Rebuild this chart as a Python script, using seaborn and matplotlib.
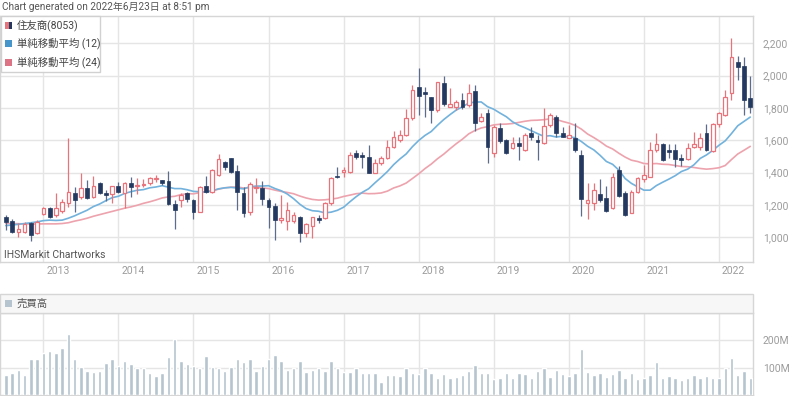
import numpy as np
import pandas as pd
import seaborn as sns
import matplotlib
matplotlib.use("Agg")
import matplotlib.pyplot as plt
from matplotlib.patches import Rectangle
from matplotlib.transforms import ScaledTranslation

# monthly candles, Jul 2012 .. Jun 2022
opens = [1124, 1103, 1031, 1031, 1087, 1025, 1144, 1179, 1138, 1165, 1210, 1276,
         1252, 1303, 1252, 1334, 1276, 1266, 1317, 1276, 1338, 1320, 1326, 1334,
         1361, 1355, 1348, 1206, 1231, 1272, 1231, 1159, 1320, 1282, 1386, 1468,
         1489, 1410, 1276, 1155, 1303, 1303, 1231, 1194, 1107, 1103, 1103, 1128,
         1025, 1070, 1117, 1122, 1210, 1379, 1406, 1406, 1520, 1509, 1499, 1400,
         1458, 1493, 1557, 1602, 1633, 1736, 1932, 1897, 1866, 1787, 1956, 1808,
         1808, 1849, 1818, 1903, 1722, 1767, 1520, 1674, 1602, 1551, 1586, 1540,
         1647, 1602, 1581, 1695, 1746, 1647, 1616, 1612, 1509, 1210, 1210, 1268,
         1241, 1179, 1416, 1272, 1153, 1282, 1359, 1375, 1540, 1577, 1540, 1540,
         1493, 1482, 1561, 1561, 1643, 1536, 1701, 1757, 1895, 2083, 2060, 1860]
highs = [1138, 1111, 1091, 1097, 1097, 1107, 1190, 1190, 1276, 1235, 1612, 1313,
         1396, 1355, 1381, 1344, 1293, 1320, 1344, 1344, 1375, 1365, 1359, 1375,
         1386, 1355, 1412, 1231, 1276, 1282, 1235, 1317, 1379, 1421, 1513, 1474,
         1493, 1447, 1313, 1344, 1365, 1348, 1241, 1210, 1262, 1221, 1159, 1132,
         1087, 1128, 1138, 1221, 1375, 1437, 1437, 1530, 1542, 1530, 1571, 1482,
         1503, 1602, 1659, 1664, 1792, 1942, 2045, 1932, 1870, 1962, 1998, 1922,
         1849, 1894, 1948, 1942, 1767, 1792, 1695, 1705, 1606, 1623, 1623, 1643,
         1685, 1633, 1798, 1767, 1757, 1685, 1695, 1705, 1540, 1334, 1334, 1359,
         1317, 1400, 1441, 1289, 1293, 1375, 1447, 1592, 1647, 1581, 1577, 1577,
         1515, 1581, 1654, 1647, 1701, 1709, 1773, 1911, 2231, 2122, 2113, 1998]
lows = [1045, 1029, 1000, 1025, 979, 1021, 1138, 1117, 1128, 1148, 1190, 1159,
        1235, 1235, 1241, 1268, 1225, 1210, 1272, 1179, 1252, 1266, 1313, 1322,
        1344, 1324, 1200, 1049, 1190, 1221, 1113, 1159, 1276, 1276, 1379, 1417,
        1400, 1169, 1128, 1138, 1272, 1200, 1056, 984, 1087, 1045, 1087, 973,
        1004, 994, 1091, 1113, 1200, 1365, 1375, 1396, 1482, 1427, 1396, 1400,
        1447, 1482, 1550, 1591, 1627, 1726, 1757, 1746, 1705, 1777, 1812, 1808,
        1787, 1792, 1808, 1660, 1716, 1458, 1499, 1581, 1515, 1546, 1478, 1536,
        1602, 1478, 1577, 1685, 1619, 1619, 1612, 1530, 1132, 1111, 1169, 1221,
        1159, 1173, 1252, 1132, 1148, 1276, 1344, 1371, 1530, 1474, 1489, 1433,
        1441, 1478, 1555, 1540, 1536, 1530, 1685, 1750, 1850, 1973, 1757, 1767]
closes = [1097, 1035, 1049, 1082, 1014, 1097, 1179, 1128, 1179, 1221, 1282, 1231,
          1307, 1241, 1320, 1272, 1262, 1320, 1282, 1338, 1309, 1326, 1330, 1365,
          1369, 1338, 1206, 1169, 1262, 1235, 1159, 1313, 1282, 1417, 1482, 1437,
          1406, 1282, 1148, 1328, 1313, 1235, 1186, 1107, 1117, 1169, 1138, 1025,
          1082, 1124, 1107, 1210, 1365, 1371, 1417, 1509, 1495, 1499, 1400, 1458,
          1493, 1557, 1619, 1633, 1736, 1911, 1874, 1885, 1787, 1962, 1823, 1823,
          1835, 1804, 1891, 1709, 1742, 1561, 1684, 1598, 1520, 1586, 1565, 1633,
          1619, 1588, 1689, 1757, 1643, 1623, 1633, 1540, 1235, 1231, 1293, 1231,
          1165, 1375, 1256, 1138, 1282, 1365, 1386, 1540, 1577, 1478, 1526, 1482,
          1478, 1551, 1577, 1612, 1540, 1701, 1767, 1870, 2118, 2056, 1850, 1804]
# volume in millions of shares
volume = [73, 82, 91, 73, 130, 130, 154, 160, 154, 171, 224, 132,
          103, 88, 85, 88, 118, 130, 105, 124, 112, 99, 99, 82,
          70, 82, 138, 204, 124, 115, 107, 99, 144, 103, 99, 88,
          103, 130, 121, 132, 88, 105, 130, 148, 126, 91, 97, 124,
          85, 91, 99, 88, 124, 99, 85, 85, 99, 79, 81, 81,
          48, 75, 72, 70, 99, 82, 76, 97, 82, 64, 76, 64,
          67, 73, 88, 109, 79, 82, 58, 64, 82, 64, 82, 76,
          64, 86, 97, 67, 91, 76, 70, 82, 168, 85, 75, 79,
          67, 76, 91, 61, 79, 58, 61, 73, 121, 61, 70, 64,
          55, 61, 75, 64, 70, 61, 61, 97, 136, 73, 86, 64]
# moving averages before the full window is available
sma12_head = [1072, 1076, 1080, 1085, 1090, 1095, 1103, 1106, 1104, 1106, 1118]
sma24_head = [1085, 1085, 1084, 1083, 1082, 1082, 1083, 1083, 1083, 1085, 1090, 1100,
              1108, 1118, 1130, 1140, 1150, 1160, 1170, 1180, 1188, 1198, 1210]
years = ["2013", "2014", "2015", "2016", "2017", "2018", "2019", "2020", "2021", "2022"]

df = pd.DataFrame({"open": opens, "high": highs, "low": lows, "close": closes,
                   "volume": np.array(volume) * 1e6})
df["idx"] = np.arange(len(df))
sma12 = df["close"].rolling(12).mean()
sma12.iloc[:len(sma12_head)] = sma12_head
sma24 = df["close"].rolling(24).mean()
sma24.iloc[:len(sma24_head)] = sma24_head
df["sma12"] = sma12
df["sma24"] = sma24
up = df["close"] >= df["open"]

UP = "#e8737b"
DOWN = "#24395f"
DOWN_WICK = "#5b6c8c"
BLUE = "#72b2dc"
PINK = "#eda3ad"
VOL = "#b5c4ce"
GRID = "#e5e5e5"
FRAME = "#d6d6d6"
TICK = "#9c9c9c"

sns.set_theme(style="white")
plt.rcParams["font.family"] = ["Roboto", "Noto Sans CJK JP", "DejaVu Sans"]

W, H = 800, 396
fig = plt.figure(figsize=(8, 3.96), dpi=100)


def fx(x):
    return x / W


def fy(y):
    return 1 - y / H


ax = fig.add_axes([fx(0), fy(262), fx(753), (262 - 16) / H])
axv = fig.add_axes([fx(0), fy(395), fx(753), (395 - 313) / H])

jan_idx = [6 + 12 * k for k in range(len(years))]
xlim = (-0.93, 119.44)

# candles
ax.vlines(df.loc[up, "idx"], df.loc[up, "low"], df.loc[up, "high"],
          color=UP, lw=0.9, zorder=3)
ax.vlines(df.loc[~up, "idx"], df.loc[~up, "low"], df.loc[~up, "high"],
          color=DOWN_WICK, lw=0.9, zorder=3)
body_lo = np.minimum(df["open"], df["close"])
body_h = np.maximum(np.abs(df["close"] - df["open"]), 5)
ax.bar(df.loc[up, "idx"], body_h[up], bottom=body_lo[up], width=0.58,
       facecolor="white", edgecolor=UP, linewidth=0.9, zorder=4)
ax.bar(df.loc[~up, "idx"], body_h[~up], bottom=body_lo[~up], width=0.62,
       facecolor=DOWN, edgecolor=DOWN, linewidth=0.5, zorder=4)

sns.lineplot(data=df, x="idx", y="sma24", color=PINK, lw=1.2, ax=ax, zorder=2)
sns.lineplot(data=df, x="idx", y="sma12", color=BLUE, lw=1.2, ax=ax, zorder=2)

ax.set_xlim(*xlim)
ax.set_ylim(847, 2369)
ax.set_yticks([1000, 1200, 1400, 1600, 1800, 2000, 2200])
ax.set_yticklabels(["1,000", "1,200", "1,400", "1,600", "1,800", "2,000", "2,200"])
ax.yaxis.tick_right()
ax.set_xticks(jan_idx)
ax.set_xticklabels(years)
ax.set_xlabel("")
ax.set_ylabel("")
ax.grid(True, color=GRID, lw=1)
ax.set_axisbelow(True)
ax.tick_params(axis="y", length=0, pad=7, labelsize=7.5, labelcolor=TICK)
ax.tick_params(axis="x", length=0, pad=3, labelsize=7.5, labelcolor=TICK)
for lab in ax.get_xticklabels():
    lab.set_horizontalalignment("left")
    lab.set_transform(lab.get_transform() + ScaledTranslation(2 / 72, 0, fig.dpi_scale_trans))
for s in ax.spines.values():
    s.set_color(FRAME)
    s.set_linewidth(1)

# volume
sns.barplot(data=df, x="idx", y="volume", native_scale=True, width=0.55,
            color=VOL, saturation=1, errorbar=None, ax=axv, zorder=3)
axv.set_xlim(*xlim)
axv.set_ylim(0, 300e6)
axv.set_yticks([100e6, 200e6])
axv.set_yticklabels(["100M", "200M"])
axv.yaxis.tick_right()
axv.set_xticks(jan_idx)
axv.set_xticklabels([])
axv.set_xlabel("")
axv.set_ylabel("")
axv.grid(True, color=GRID, lw=1)
axv.set_axisbelow(True)
axv.tick_params(axis="y", length=0, pad=7, labelsize=7.5, labelcolor=TICK)
axv.tick_params(axis="x", length=0)
for s in axv.spines.values():
    s.set_color(FRAME)
    s.set_linewidth(1)

# volume header band
fig.add_artist(Rectangle((fx(0), fy(313)), fx(753), 19 / H, transform=fig.transFigure,
                         facecolor="#f7f7f7", edgecolor=FRAME, lw=1, zorder=5))
fig.add_artist(Rectangle((fx(5), fy(307)), fx(7), 7 / H, transform=fig.transFigure,
                         facecolor=VOL, edgecolor="none", zorder=6))
fig.text(fx(17), fy(303.5), "売買高", fontsize=7.5, color="#555555",
         va="center", ha="left", zorder=6)

# legend box
fig.add_artist(Rectangle((fx(1), fy(72)), fx(99), 56 / H, transform=fig.transFigure,
                         facecolor="white", edgecolor="#cfcfcf", lw=1, alpha=0.95, zorder=5))
rows = [("住友商(8053)", None), ("単純移動平均 (12)", "#4696cb"), ("単純移動平均 (24)", "#dc7486")]
for k, (label, col) in enumerate(rows):
    yc = 25 + k * 18.5
    if col is None:
        fig.add_artist(Rectangle((fx(5), fy(yc + 3.5)), fx(3.5), 7 / H, transform=fig.transFigure,
                                 facecolor=UP, edgecolor="none", zorder=6))
        fig.add_artist(Rectangle((fx(8.5), fy(yc + 3.5)), fx(3.5), 7 / H, transform=fig.transFigure,
                                 facecolor=DOWN, edgecolor="none", zorder=6))
    else:
        fig.add_artist(Rectangle((fx(5), fy(yc + 3.5)), fx(7), 7 / H, transform=fig.transFigure,
                                 facecolor=col, edgecolor="none", zorder=6))
    fig.text(fx(17), fy(yc), label, fontsize=7.5, color="#444444",
             va="center", ha="left", zorder=6)

fig.text(fx(2), fy(7), "Chart generated on 2022年6月23日 at 8:51 pm", fontsize=7.2,
         color="#555555", va="center", ha="left")
fig.text(fx(4), fy(255), "IHSMarkit Chartworks", fontsize=7.5, color="#555555",
         va="center", ha="left")

fig.savefig("out.png", dpi=100, facecolor="white")
